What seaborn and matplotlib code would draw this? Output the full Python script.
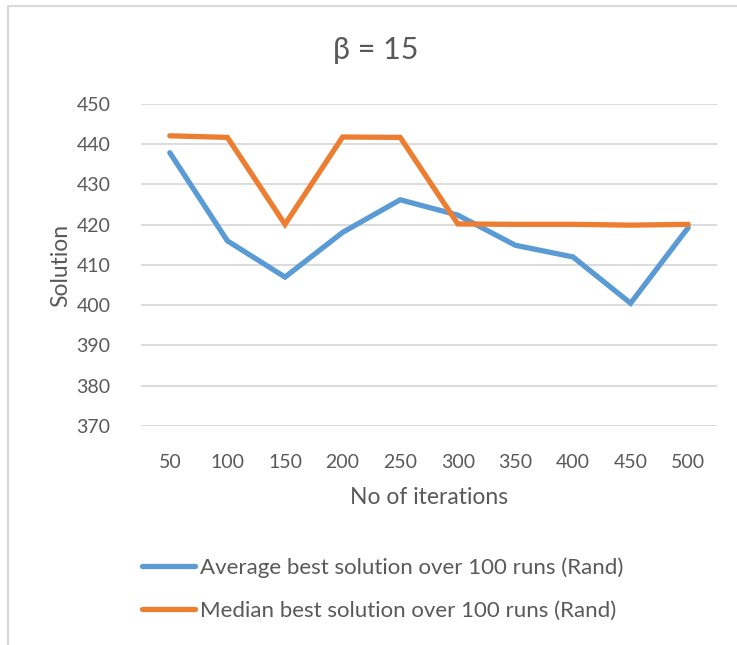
import matplotlib
matplotlib.use("Agg")
import matplotlib.pyplot as plt
from matplotlib.lines import Line2D
import seaborn as sns
import pandas as pd

iterations = ["50", "100", "150", "200", "250", "300", "350", "400", "450", "500"]
average_best = [437.9, 416.0, 407.0, 418.1, 426.2, 422.4, 414.9, 412.0, 400.5, 419.3]
median_best = [442.1, 441.7, 420.1, 441.8, 441.7, 420.2, 420.1, 420.1, 419.9, 420.1]
series_names = ["Average best solution over 100 runs (Rand)",
                "Median best solution over 100 runs (Rand)"]
y_ticks = [370, 380, 390, 400, 410, 420, 430, 440, 450]

df = pd.DataFrame({
    "Iterations": iterations * 2,
    "Solution": average_best + median_best,
    "Series": [series_names[0]] * len(iterations) + [series_names[1]] * len(iterations),
})

sns.set_theme(style="white")
plt.rcParams["font.family"] = ["Lato", "DejaVu Sans"]
text_color = "#595959"

W, H = 737, 645
fig = plt.figure(figsize=(W / 100, H / 100), dpi=100)
ax = fig.add_axes([141 / W, (H - 426) / H, 576 / W, 322 / H])

palette = {series_names[0]: "#5B9BD5", series_names[1]: "#ED7D31"}
sns.lineplot(data=df, x="Iterations", y="Solution", hue="Series", palette=palette,
             linewidth=3.8, sort=False, ax=ax, legend=True)
for line in ax.lines:
    line.set_solid_capstyle("round")
    line.set_solid_joinstyle("miter")

ax.set_xlim(-0.5, len(iterations) - 0.5)
ax.set_ylim(370, 450)
ax.set_yticks(y_ticks)
ax.yaxis.grid(True, color="#D9D9D9", linewidth=1.3)
ax.xaxis.grid(False)
for s in ax.spines.values():
    s.set_visible(False)
ax.tick_params(axis="both", length=0, labelsize=14, labelcolor=text_color)
ax.tick_params(axis="y", pad=22)
ax.tick_params(axis="x", pad=20)
ax.set_xlabel("No of iterations", fontsize=16.5, color=text_color, labelpad=12)
ax.set_ylabel("Solution", fontsize=16.5, color=text_color, labelpad=4)
fig.text(376 / W, 1 - 50 / H, "β = 15", fontsize=22, color=text_color,
         ha="center", va="center")

handles, labels = ax.get_legend_handles_labels()
ax.legend(handles, labels, loc="upper left", bbox_to_anchor=(142 / W, 1 - 557 / H),
          bbox_transform=fig.transFigure, frameon=False, fontsize=16,
          handlelength=2.4, handletextpad=0.22, labelspacing=1.06, labelcolor=text_color,
          borderaxespad=0, borderpad=0)

# outer chart frame
fig.add_artist(Line2D([7.5 / W, 7.5 / W], [0, 1 - 5.5 / H], transform=fig.transFigure,
                      color="#D9D9D9", linewidth=1.5))
fig.add_artist(Line2D([7.5 / W, 1], [1 - 5.5 / H, 1 - 5.5 / H], transform=fig.transFigure,
                      color="#D9D9D9", linewidth=1.5))

fig.savefig("out.png", dpi=100, facecolor="white")
